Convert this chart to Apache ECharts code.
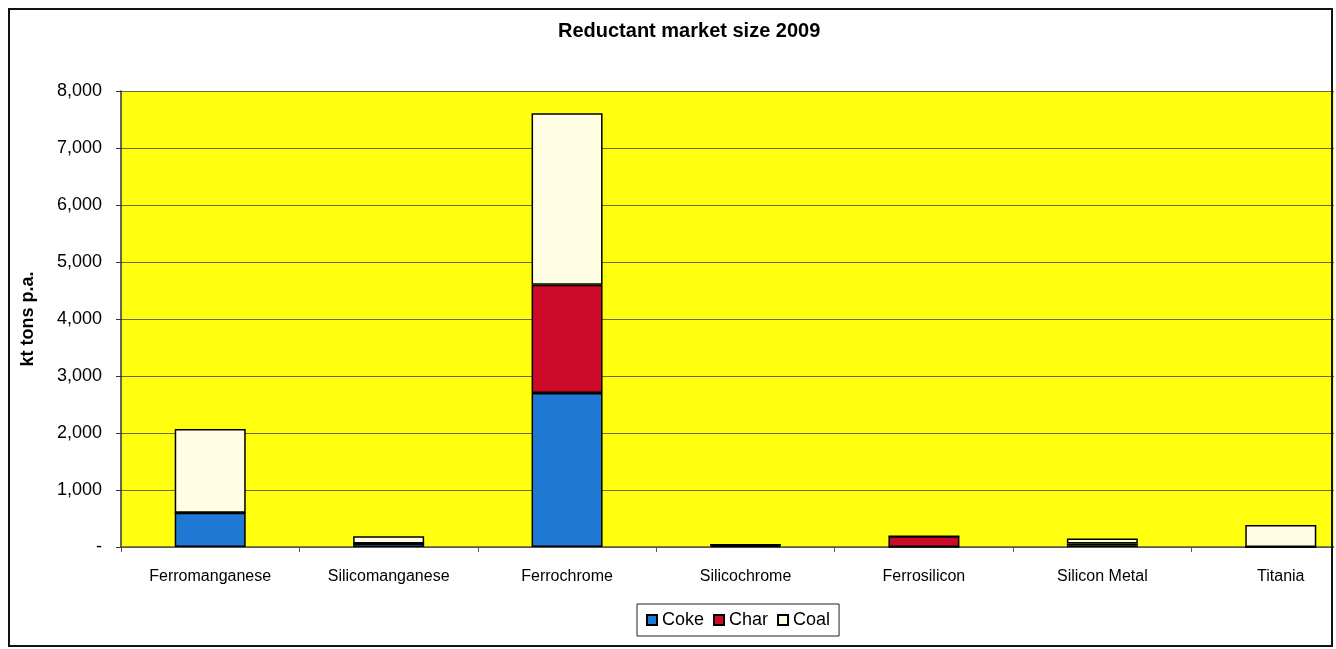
<!DOCTYPE html>
<html>
<head>
<meta charset="utf-8">
<title>Reductant market size 2009</title>
<script src="https://cdn.jsdelivr.net/npm/echarts@6/dist/echarts.min.js"></script>
<style>
    html, body { margin: 0; padding: 0; background: #fff; }
    #chart { width: 1336px; height: 649px; }
</style>
</head>
<body>
<div id="chart"></div>
<script>
const categories = ["Ferromanganese", "Silicomanganese", "Ferrochrome", "Silicochrome", "Ferrosilicon", "Silicon Metal", "Titania"]
const coke = [600, 60, 2700, 20, 0, 30, 0]
const char = [0, 0, 1900, 20, 190, 30, 0]
const coal = [1470, 130, 3010, 0, 0, 90, 385]
const yTicks = [0, 1000, 2000, 3000, 4000, 5000, 6000, 7000, 8000]

const chart = echarts.init(document.getElementById("chart"))

const barStyle = (color) => ({
    color: color,
    borderColor: "#000",
    borderWidth: 1.5
})

// the scanned chart is cut off on the right, so the plot runs past the frame
const option = {
    backgroundColor: "#fff",
    textStyle: { fontFamily: "Liberation Sans, Arial, sans-serif" },
    title: {
        text: "Reductant market size 2009",
        left: 553,
        top: 16,
        textStyle: { fontSize: 20, fontWeight: "bold", color: "#000" }
    },
    graphic: [
        {
            type: "rect",
            z: 100,
            shape: { x: 1334, y: 0, width: 20, height: 649 },
            style: { fill: "#fff" },
            silent: true
        },
        {
            type: "rect",
            z: 101,
            shape: { x: 9, y: 9, width: 1323, height: 637 },
            style: { fill: "none", stroke: "#111", lineWidth: 2 },
            silent: true
        }
    ],
    legend: {
        top: 604,
        left: 637,
        icon: "rect",
        itemWidth: 10,
        itemHeight: 10,
        itemGap: 9,
        padding: [7, 9],
        borderColor: "#222",
        borderWidth: 1,
        textStyle: { fontSize: 18, color: "#000" },
        data: ["Coke", "Char", "Coal"]
    },
    grid: {
        left: 121,
        width: 1249,
        top: 91,
        bottom: 102,
        outerBoundsMode: "none",
        show: true,
        backgroundColor: "#FFFF0F",
        borderWidth: 0
    },
    xAxis: {
        type: "category",
        data: categories,
        axisLine: { lineStyle: { color: "#555", width: 1.5 } },
        axisTick: { show: true, alignWithLabel: false, length: 5, lineStyle: { color: "#555" } },
        axisLabel: { fontSize: 16, color: "#000", margin: 22, interval: 0 }
    },
    yAxis: {
        type: "value",
        min: yTicks[0],
        max: yTicks[yTicks.length - 1],
        interval: 1000,
        name: "kt tons p.a.",
        nameLocation: "middle",
        nameRotate: 90,
        nameGap: 84,
        nameTextStyle: { fontSize: 18, fontWeight: "bold", color: "#000" },
        axisLine: { show: true, lineStyle: { color: "#333", width: 1.5 } },
        axisTick: { show: true, length: 5, lineStyle: { color: "#333" } },
        axisLabel: {
            fontSize: 18,
            color: "#000",
            margin: 19,
            formatter: v => v === 0 ? "-" : v.toLocaleString("en-US")
        },
        splitLine: { show: true, lineStyle: { color: "#6b6b2a", width: 1 } }
    },
    series: [
        { name: "Coke", type: "bar", stack: "total", barWidth: 71, itemStyle: barStyle("#1f78d2"), data: coke },
        { name: "Char", type: "bar", stack: "total", barWidth: 71, itemStyle: barStyle("#cc0a2a"), data: char },
        { name: "Coal", type: "bar", stack: "total", barWidth: 71, itemStyle: barStyle("#fffde2"), data: coal }
    ]
}

chart.setOption(option, true)
</script>
</body>
</html>
